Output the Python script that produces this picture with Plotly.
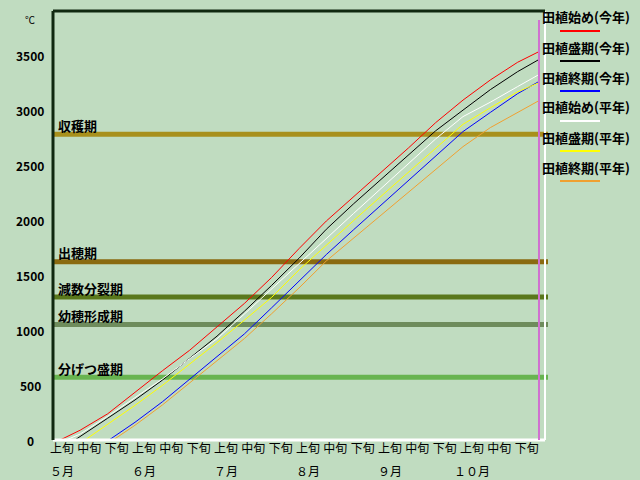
import plotly.graph_objects as go

# x軸は5月上旬の始まりを0とした「旬」単位
dekad_labels = ["上旬", "中旬", "下旬"] * 6
month_labels = ["５月", "６月", "７月", "８月", "９月", "１０月"]
y_ticks = [0, 500, 1000, 1500, 2000, 2500, 3000, 3500]

# 積算温度(℃)  今年
start_now_x = [0.26, 1, 2, 3, 4, 5, 6, 7, 8, 9, 10, 11, 12, 13, 14, 15, 16, 17, 17.75]
start_now_y = [0, 90, 238, 436, 629, 816, 1031, 1241, 1478, 1740, 1991, 2211, 2433, 2654, 2885, 3090, 3273, 3434, 3527]
peak_now_x = [0.8, 1, 2, 3, 4, 5, 6, 7, 8, 9, 10, 11, 12, 13, 14, 15, 16, 17, 17.75]
peak_now_y = [0, 32, 198, 364, 544, 743, 944, 1170, 1406, 1652, 1916, 2148, 2368, 2589, 2811, 2999, 3185, 3349, 3455]
end_now_x = [2.05, 3, 4, 5, 6, 7, 8, 9, 10, 11, 12, 13, 14, 15, 16, 17, 17.75]
end_now_y = [0, 161, 347, 552, 755, 964, 1202, 1446, 1686, 1912, 2137, 2362, 2588, 2804, 2978, 3149, 3255]

# 平年
start_avg_x = [0.48, 1, 2, 3, 4, 5, 6, 7, 8, 9, 10, 11, 12, 13, 14, 15, 16, 17, 17.75]
start_avg_y = [0, 55, 215, 385, 555, 740, 920, 1145, 1374, 1610, 1835, 2060, 2286, 2511, 2737, 2940, 3071, 3213, 3318]
peak_avg_x = [1.17, 2, 3, 4, 5, 6, 7, 8, 9, 10, 11, 12, 13, 14, 15, 16, 17, 17.75]
peak_avg_y = [0, 143, 315, 496, 691, 885, 1089, 1297, 1546, 1774, 1995, 2215, 2436, 2656, 2870, 3020, 3165, 3245]
end_avg_x = [2.2, 3, 4, 5, 6, 7, 8, 9, 10, 11, 12, 13, 14, 15, 16, 17, 17.75]
end_avg_y = [0, 134, 318, 520, 721, 922, 1148, 1382, 1628, 1835, 2044, 2251, 2459, 2667, 2840, 2978, 3081]

# 生育ステージの目安
stage_names = ["収穫期", "出穂期", "減数分裂期", "幼穂形成期", "分げつ盛期"]
stage_values = [2780, 1620, 1300, 1050, 570]
stage_colors = ["#A8901C", "#8A6A10", "#5A781C", "#6E8C5C", "#68B450"]

today_x = 17.78

series = [
    ("田植始め(今年)", start_now_x, start_now_y, "#FF0000"),
    ("田植盛期(今年)", peak_now_x, peak_now_y, "#000000"),
    ("田植終期(今年)", end_now_x, end_now_y, "#0000FF"),
    ("田植始め(平年)", start_avg_x, start_avg_y, "#FFFFFF"),
    ("田植盛期(平年)", peak_avg_x, peak_avg_y, "#FFFF00"),
    ("田植終期(平年)", end_avg_x, end_avg_y, "#F0A030"),
]

FONT = "Noto Sans CJK JP"
W, H = 640, 480
L, R, T, B = 53, 95, 11, 40
pw, ph = W - L - R, H - T - B


def px(x):
    return (x - L) / pw


def py(y):
    return (H - B - y) / ph


fig = go.Figure()
for name, xs, ys, color in series:
    fig.add_trace(go.Scatter(x=xs, y=ys, mode="lines", name=name,
                             line=dict(color=color, width=1), showlegend=False))

shapes = []
annotations = []

# ステージの横線とラベル
for name, val, color in zip(stage_names, stage_values, stage_colors):
    shapes.append(dict(type="line", xref="paper", yref="y", x0=0, x1=px(548),
                       y0=val, y1=val, line=dict(color=color, width=5), layer="below"))
    annotations.append(dict(text="<b>%s</b>" % name, xref="paper", yref="y", x=px(56), y=val,
                            xanchor="left", yanchor="middle", yshift=9, showarrow=False,
                            font=dict(family=FONT, size=13, color="black")))

# 枠線 (左上が暗く右下が白い)
shapes.append(dict(type="line", xref="paper", yref="paper", x0=1, x1=1, y0=0, y1=1,
                   line=dict(color="white", width=2)))
shapes.append(dict(type="line", xref="paper", yref="paper", x0=0, x1=1, y0=0, y1=0,
                   line=dict(color="white", width=3)))
shapes.append(dict(type="line", xref="paper", yref="paper", x0=0, x1=0, y0=0, y1=1,
                   line=dict(color="#102810", width=3)))
shapes.append(dict(type="line", xref="paper", yref="paper", x0=0, x1=1, y0=1, y1=1,
                   line=dict(color="#102810", width=3)))

# 現在日の線
shapes.append(dict(type="line", xref="x", yref="paper", x0=today_x, x1=today_x,
                   y0=0, y1=py(20), line=dict(color="#D070D0", width=2)))

# y軸ラベル
for v in y_ticks:
    annotations.append(dict(text="<b>%d</b>" % v, xref="paper", yref="y", x=px(30), y=v,
                            xanchor="center", yanchor="middle", showarrow=False,
                            font=dict(family=FONT, size=12, color="black")))
annotations.append(dict(text="℃", xref="paper", yref="paper", x=px(30), y=py(20),
                        xanchor="center", yanchor="middle", showarrow=False,
                        font=dict(family=FONT, size=10, color="black")))

# 月ラベル
for i, m in enumerate(month_labels):
    annotations.append(dict(text=m, xref="x", yref="paper", x=3 * i + 0.33, y=py(470),
                            xanchor="center", yanchor="middle", showarrow=False,
                            font=dict(family=FONT, size=12, color="black")))

# 凡例 (文字の下に線)
for i, (name, xs, ys, color) in enumerate(series):
    annotations.append(dict(text="<b>%s</b>" % name, xref="paper", yref="paper",
                            x=px(540), y=py(17 + 30 * i), xanchor="left", yanchor="middle",
                            showarrow=False, font=dict(family=FONT, size=13, color="black")))
    shapes.append(dict(type="line", xref="paper", yref="paper", x0=px(560), x1=px(600),
                       y0=py(31 + 30 * i), y1=py(31 + 30 * i), line=dict(color=color, width=2)))

fig.update_layout(
    width=W, height=H,
    margin=dict(l=L, r=R, t=T, b=B),
    paper_bgcolor="#C0DCC0", plot_bgcolor="#C0DCC0",
    shapes=shapes, annotations=annotations,
    font=dict(family=FONT, size=12, color="black"),
    xaxis=dict(range=[0, 18], showgrid=False, zeroline=False, showline=False,
               tickmode="array", tickvals=[i + 0.33 for i in range(18)], ticktext=dekad_labels,
               ticks="", tickfont=dict(family=FONT, size=12, color="black")),
    yaxis=dict(range=[0, 3900], showgrid=False, zeroline=False, showline=False,
               showticklabels=False, ticks=""),
    showlegend=False,
)

# ページの余白をなくす
fig.write_html("out.html", config=dict(displayModeBar=False),
               post_script="document.body.style.margin='0';")
